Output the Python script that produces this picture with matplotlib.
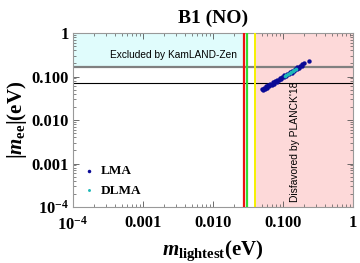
import numpy as np
import matplotlib.pyplot as plt
from matplotlib.ticker import FixedLocator, FixedFormatter, LogLocator, NullFormatter

plt.rcParams['mathtext.fontset'] = 'custom'
plt.rcParams['mathtext.it'] = 'Liberation Serif:bold:italic'
plt.rcParams['mathtext.rm'] = 'Liberation Serif:bold'
plt.rcParams['mathtext.bf'] = 'Liberation Serif:bold'

# limits (eV)
kamland = 0.165
mee_line = 0.07
red_x = 0.0277
green_x = 0.031
yellow_x = 0.0398
planck = 0.0405

# LMA band (two edges of the thick stripe)
lma_x = [0.050, 0.053, 0.057, 0.061, 0.066, 0.071, 0.077, 0.083, 0.090, 0.097,
         0.105, 0.114, 0.124, 0.135, 0.147, 0.160, 0.173, 0.187, 0.200,
         0.051, 0.055, 0.059, 0.064, 0.069, 0.075, 0.081, 0.088, 0.095, 0.103,
         0.112, 0.122, 0.133, 0.145, 0.158, 0.171, 0.185, 0.232]
lma_y = [0.052, 0.055, 0.059, 0.063, 0.068, 0.073, 0.079, 0.085, 0.092, 0.099,
         0.107, 0.116, 0.126, 0.137, 0.149, 0.162, 0.175, 0.189, 0.202,
         0.048, 0.051, 0.055, 0.059, 0.064, 0.069, 0.075, 0.081, 0.088, 0.095,
         0.103, 0.112, 0.122, 0.133, 0.145, 0.157, 0.170, 0.224]
dlma_x = [0.106, 0.112, 0.118, 0.124, 0.130, 0.137, 0.144, 0.151]
dlma_y = [0.104, 0.110, 0.116, 0.122, 0.128, 0.135, 0.142, 0.149]

xticks = [1e-4, 1e-3, 1e-2, 1e-1, 1]
xlabels = ['$10^{-4}$', '0.001', '0.010', '0.100', '1']
yticks = [1e-4, 1e-3, 1e-2, 1e-1, 1]
ylabels = ['$10^{-4}$', '0.001', '0.010', '0.100', '1']

fig = plt.figure(figsize=(3.6, 2.63), dpi=100)
ax = fig.add_axes([73/360, 56/263, 280/360, 174/263])
ax.set_xscale('log')
ax.set_yscale('log')
ax.set_xlim(1e-4, 1)
ax.set_ylim(1e-4, 1)

ax.fill_between([1e-4, red_x], kamland, 1, color='#e0fcfc', lw=0, zorder=0)
ax.axvspan(planck, 1, color='#fdd9d9', lw=0, zorder=0)

ax.axhline(kamland, color='#808080', lw=1.6, zorder=2)
ax.axhline(mee_line, color='black', lw=0.8, zorder=2)
ax.axvline(red_x, color='#ee1111', lw=1.6, zorder=3)
ax.axvline(green_x, color='#33dd33', lw=1.6, zorder=3)
ax.axvline(yellow_x, color='#f5f000', lw=1.4, zorder=3)

ax.scatter(lma_x, lma_y, s=10, color='#0a0a96', lw=0, zorder=4, label='LMA')
ax.scatter(dlma_x, dlma_y, s=7, color='#1fb8b8', lw=0, zorder=5, label='DLMA')

ax.text(3.4e-4, 0.31, 'Excluded by KamLAND-Zen', fontsize=7.3,
        family='Liberation Sans', va='center', ha='left')
ax.text(0.148, 1.3e-4, "Disfavored by PLANCK'18", fontsize=7.4,
        family='Liberation Sans', rotation=90, va='bottom', ha='center')

ax.legend(loc='lower left', bbox_to_anchor=(0.0, 0.005), frameon=False,
          prop={'family': 'Liberation Serif', 'weight': 'bold', 'size': 9.5},
          handletextpad=0.4, markerscale=0.8, labelspacing=0.55,
          handlelength=1.0, borderaxespad=0.3)

ax.xaxis.set_major_locator(FixedLocator(xticks))
ax.xaxis.set_major_formatter(FixedFormatter(xlabels))
ax.yaxis.set_major_locator(FixedLocator(yticks))
ax.yaxis.set_major_formatter(FixedFormatter(ylabels))
ax.xaxis.set_minor_locator(LogLocator(base=10, subs=np.arange(2, 10)))
ax.yaxis.set_minor_locator(LogLocator(base=10, subs=np.arange(2, 10)))
ax.xaxis.set_minor_formatter(NullFormatter())
ax.yaxis.set_minor_formatter(NullFormatter())
ax.tick_params(which='both', direction='in', top=True, right=True, color='#555555')
ax.tick_params(which='major', length=4, width=0.6, pad=3)
ax.tick_params(axis='x', which='major', pad=6)
ax.tick_params(which='minor', length=2, width=0.5)
for lab in ax.get_xticklabels() + ax.get_yticklabels():
    lab.set_fontfamily('Liberation Serif')
    lab.set_fontweight('bold')
    lab.set_fontsize(12)
for sp in ax.spines.values():
    sp.set_color('#999999')
    sp.set_linewidth(0.8)

ax.set_xlabel(r'$m_{\rm lightest}$(eV)', fontsize=15, family='Liberation Serif',
              fontweight='bold', labelpad=4)
ax.set_ylabel(r'$|m_{\rm ee}|$(eV)', fontsize=15, family='Liberation Serif',
              fontweight='bold', labelpad=2)
ax.set_title('B1 (NO)', fontsize=14, family='Liberation Serif', fontweight='bold', pad=7)

fig.savefig('out.png', dpi=100)
